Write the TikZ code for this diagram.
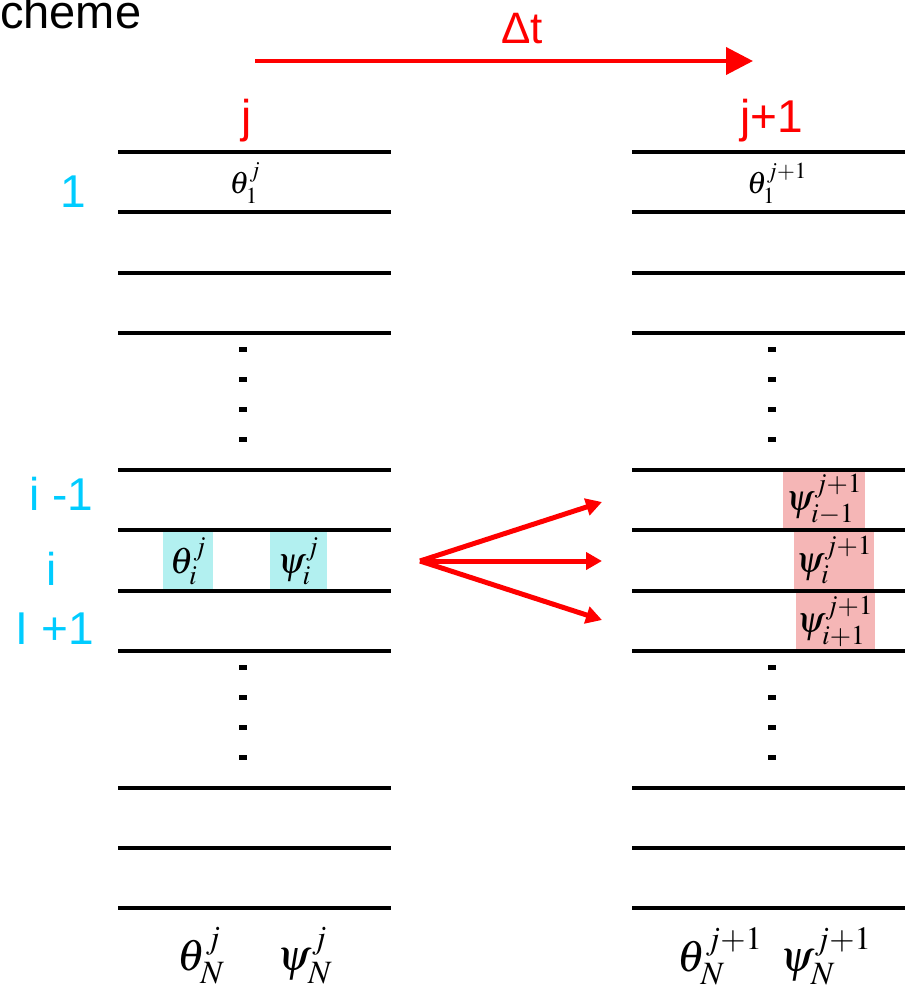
\documentclass[tikz,border=0pt]{standalone}
\usepackage{mathptmx}
\usepackage{fontspec}
\setmainfont{Liberation Sans}
\usetikzlibrary{arrows.meta}
\definecolor{rowblue}{RGB}{0,204,255}
\definecolor{boxcyan}{RGB}{178,240,240}
\definecolor{boxpink}{RGB}{245,182,182}

\begin{document}
\begin{tikzpicture}[x=1pt,y=-1pt,
    level/.style={line width=4.5pt},
    rowlabel/.style={text=rowblue,font=\fontsize{46}{50}\selectfont,inner sep=0pt,anchor=base},
    steplabel/.style={text=red,font=\fontsize{46}{50}\selectfont,inner sep=0pt,anchor=base},
    topvar/.style={font=\fontsize{31}{34}\selectfont,inner sep=0pt},
    midvar/.style={font=\fontsize{37}{40}\selectfont,inner sep=0pt,minimum height=59pt},
    oldbox/.style={midvar,fill=boxcyan},
    newbox/.style={midvar,fill=boxpink},
    botvar/.style={font=\fontsize{44}{48}\selectfont,inner sep=0pt},
    push/.style={red,line width=5pt,-{Triangle[length=16pt,width=17pt]}}]
    \useasboundingbox (0,0) rectangle (908,989);

    \node[anchor=base west,inner sep=0pt,font=\fontsize{47}{50}\selectfont] (title) at (0,28) {cheme};

    \node[text=red,font=\fontsize{44}{48}\selectfont,inner sep=0pt,anchor=base] (dt) at (522,43) {Δt};
    \coordinate (dtstart) at (255,61);
    \coordinate (dtend) at (753,61);
    \draw[red,line width=4pt,-{Triangle[length=27pt,width=27pt]}] (dtstart) -- (dtend);

    \node[steplabel] (jold) at (247,132) {j};
    \node[steplabel] (jnew) at (772,132) {j+1};

    \node[rowlabel] (r1) at (73,207) {1};
    \node[rowlabel] (rim) at (61,510) {i -1};
    \node[rowlabel] (ri) at (52,585) {i};
    \node[rowlabel] (rip) at (55,644) {I +1};

    \node[topvar] (th1old) at (245,183) {$\theta_1^{j}$};
    \node[topvar] (th1new) at (777,183) {$\theta_1^{j+1}$};

    \node[oldbox,minimum width=50pt] (thiold) at (188,561) {$\theta_i^{j}$};
    \node[oldbox,minimum width=57pt] (psiold) at (298,561) {$\psi_i^{j}$};

    \node[newbox,minimum width=82pt] (psimnew) at (824,499) {$\psi_{i-1}^{j+1}$};
    \node[newbox,minimum width=80pt] (psinew) at (834,560) {$\psi_{i}^{j+1}$};
    \node[newbox,minimum width=79pt] (psipnew) at (835,621) {$\psi_{i+1}^{j+1}$};

    \node[botvar] (thNold) at (201,956) {$\theta_N^{j}$};
    \node[botvar] (psNold) at (305,956) {$\psi_N^{j}$};
    \node[botvar] (thNnew) at (720,956) {$\theta_N^{j+1}$};
    \node[botvar] (psNnew) at (826,956) {$\psi_N^{j+1}$};

    \foreach \y in {152,212,273,333,470,530,591,651,788,848,908}
        \draw[level] (118,\y) -- (391,\y) (632,\y) -- (905,\y);

    \foreach \y in {349,379,409,439,667,697,727,757} {
        \fill[black] (239,\y-2.5) rectangle (247,\y+2.5);
        \fill[black] (768,\y-2.5) rectangle (776,\y+2.5);
    }

    \coordinate (src) at (420,561);
    \coordinate (up) at (602,502);
    \coordinate (mid) at (602,561);
    \coordinate (dn) at (602,620);
    \draw[push] (src) -- (up);
    \draw[push] (src) -- (mid);
    \draw[push] (src) -- (dn);
\end{tikzpicture}
\end{document}
